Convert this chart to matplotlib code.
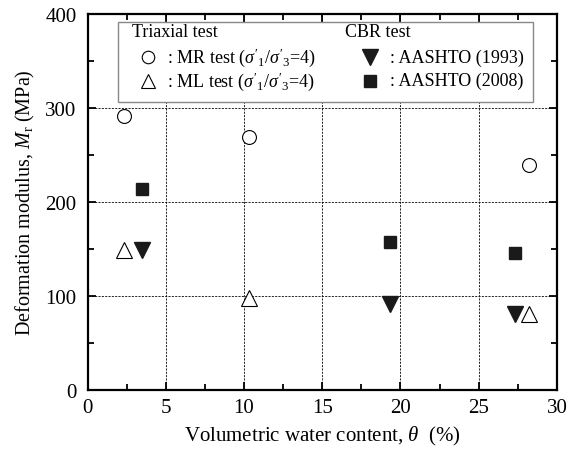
import matplotlib
matplotlib.use('Agg')
import matplotlib.pyplot as plt
from matplotlib.patches import Rectangle

plt.rcParams['font.family'] = 'Liberation Serif'
plt.rcParams['mathtext.fontset'] = 'custom'
plt.rcParams['mathtext.rm'] = 'Liberation Serif'
plt.rcParams['mathtext.it'] = 'Liberation Serif:italic'

# data
mr_theta = [2.3, 10.3, 28.2]
mr_mod = [291, 269, 239]
ml_theta = [2.3, 10.3, 28.2]
ml_mod = [149, 97, 80]
a1993_theta = [3.5, 19.3, 27.35]
a1993_mod = [149, 91, 80]
a2008_theta = [3.5, 19.3, 27.35]
a2008_mod = [214, 157, 145]

fig = plt.figure(figsize=(5.69, 4.52), dpi=100)
ax = fig.add_axes([0.1538, 0.136, 0.825, 0.831])

ax.plot(mr_theta, mr_mod, 'o', ms=10, mfc='white', mec='black', mew=0.8, ls='none', zorder=3)
ax.plot(ml_theta, ml_mod, '^', ms=11, mfc='white', mec='black', mew=0.8, ls='none', zorder=3)
ax.plot(a1993_theta, a1993_mod, 'v', ms=11, color='#1a1a1a', ls='none', zorder=3)
ax.plot(a2008_theta, a2008_mod, 's', ms=8.5, color='#1a1a1a', ls='none', zorder=3)

ax.set_xlim(0, 30)
ax.set_ylim(0, 400)
ax.set_xticks(range(0, 31, 5))
ax.set_yticks(range(0, 401, 100))
ax.set_xticks([2.5 + 5 * i for i in range(6)], minor=True)
ax.set_yticks([50 + 100 * i for i in range(4)], minor=True)
ax.tick_params(which='both', direction='in', top=True, right=True, labelsize=15, width=1.3)
ax.tick_params(axis='y', pad=8)
ax.tick_params(axis='x', pad=6)
ax.tick_params(which='major', length=6)
ax.tick_params(which='minor', length=4)
for s in ax.spines.values():
    s.set_linewidth(1.6)
ax.grid(True, which='major', color='black', linestyle=(0, (2.5, 1.5)), linewidth=0.6)

ax.set_xlabel(r'Volumetric water content, $\theta$  (%)', fontsize=15, labelpad=5)
ax.set_ylabel(r'Deformation modulus, $M_{\mathrm{r}}$ (MPa)', fontsize=14.5, labelpad=6)

# legend drawn by hand to match the two-column layout
tr = ax.transAxes
ax.add_patch(Rectangle((0.0643, 0.7656), 0.8846, 0.2139, transform=tr, facecolor='white',
                       edgecolor='#888888', linewidth=1.0, zorder=4))
fs = 13
ax.text(0.094, 0.952, 'Triaxial test', transform=tr, fontsize=fs, va='center', zorder=5)
ax.text(0.548, 0.952, 'CBR test', transform=tr, fontsize=fs, va='center', zorder=5)
ax.plot([0.1295], [0.8847], 'o', ms=9, mfc='white', mec='black', mew=0.8, transform=tr, zorder=5)
ax.plot([0.1295], [0.8224], '^', ms=10, mfc='white', mec='black', mew=0.8, transform=tr, zorder=5)
ax.plot([0.6017], [0.8847], 'v', ms=11, color='#1a1a1a', transform=tr, zorder=5)
ax.plot([0.6017], [0.8224], 's', ms=8, color='#1a1a1a', transform=tr, zorder=5)
ax.text(0.1687, 0.8847, r": MR test ($\sigma'_{1}/\sigma'_{3}$=4)", transform=tr, fontsize=fs, va='center', zorder=5)
ax.text(0.1687, 0.8224, r": ML test ($\sigma'_{1}/\sigma'_{3}$=4)", transform=tr, fontsize=fs, va='center', zorder=5)
ax.text(0.6443, 0.8847, ': AASHTO (1993)', transform=tr, fontsize=fs, va='center', zorder=5)
ax.text(0.6443, 0.8224, ': AASHTO (2008)', transform=tr, fontsize=fs, va='center', zorder=5)

fig.savefig('out.png', dpi=100)
